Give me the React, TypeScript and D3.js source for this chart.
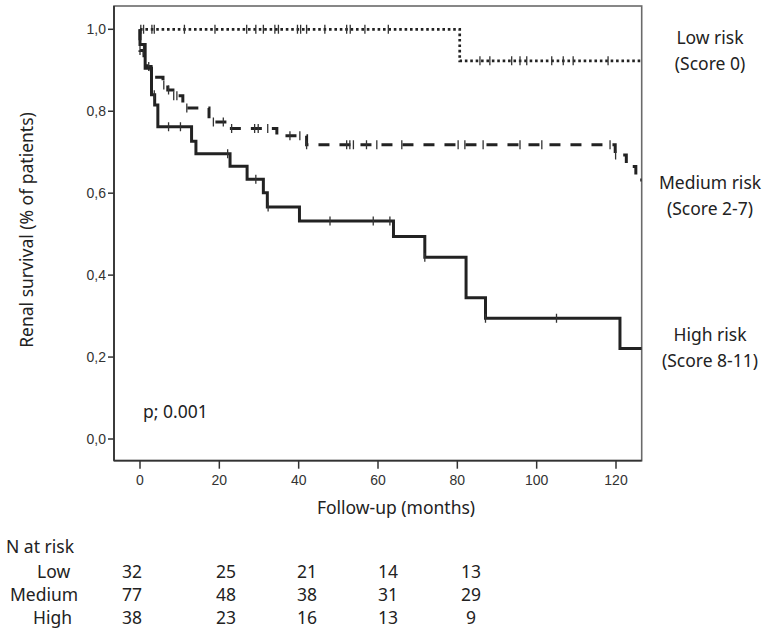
import React from 'react';
import * as d3 from 'd3';

// ---------- data ----------
const followUpEnd = 126.5;

const lowTimes = [0, 80.6];
const lowSurv = [1.0, 0.923];
const lowCensor = [0.2, 0.9, 3.0, 3.6, 11.2, 18.9, 26.9, 29.2, 31.1, 34.0, 34.9, 39.7, 40.5, 42.0, 46.6, 52.1, 53.0, 56.7, 62.6, 85.7, 88.2, 93.7, 95.8, 97.5, 103.8, 106.7, 109.2, 118.0];

const medTimes = [0, 0, 1.0, 1.8, 2.8, 4.2, 5.8, 7.0, 8.3, 10.8, 17.4, 22.6, 34.5, 42.0, 119.8, 122.6, 125.0];
const medSurv = [1.0, 0.948, 0.922, 0.909, 0.896, 0.883, 0.864, 0.852, 0.838, 0.808, 0.774, 0.758, 0.740, 0.718, 0.693, 0.665, 0.632];
const medCensor = [0.0, 0.9, 2.2, 6.0, 7.2, 8.5, 9.3, 11.8, 18.5, 21.0, 23.1, 28.9, 29.8, 32.2, 37.8, 40.3, 42.0, 52.1, 52.9, 53.8, 57.1, 59.7, 66.0, 80.2, 81.9, 86.5, 95.8, 101.3, 118.5, 119.9];

const highTimes = [0, 0, 1.3, 2.9, 3.7, 4.5, 13.0, 14.1, 22.7, 27.0, 31.1, 32.1, 40.2, 63.9, 71.8, 82.2, 87.1, 121.0];
const highSurv = [1.0, 0.963, 0.905, 0.84, 0.815, 0.762, 0.727, 0.696, 0.666, 0.634, 0.601, 0.566, 0.532, 0.494, 0.4435, 0.345, 0.2946, 0.221];
const highCensor = [3.6, 7.2, 10.2, 22.1, 29.2, 32.3, 47.9, 58.8, 63.0, 71.8, 87.1, 105.0];

const xTicks = [0, 20, 40, 60, 80, 100, 120];
const yTicks = [0, 0.2, 0.4, 0.6, 0.8, 1.0];

const riskGroups = ['Low', 'Medium', 'High'];
const riskLow = [32, 25, 21, 14, 13];
const riskMedium = [77, 48, 38, 31, 29];
const riskHigh = [38, 23, 16, 13, 9];

const groupLabels = [
  ['Low risk', '(Score 0)'],
  ['Medium risk', '(Score 2-7)'],
  ['High risk', '(Score 8-11)'],
];

// ---------- layout ----------
const W = 768;
const H = 639;
const frame = { left: 114, right: 641.7, top: 6, bottom: 460.7 };
const labelFont = '"Noto Sans", "Open Sans", sans-serif';
const tickFont = '"Liberation Sans", Arial, sans-serif';
const tableColX = [132, 226, 307, 388, 471];
const tableRowY = [578, 601, 624];
const rowLabelX = [37, 10, 33];
const groupLabelY = [[44, 70], [189, 215], [341, 367]];

const x = d3.scaleLinear().domain([0, 120]).range([140, 616]);
const y = d3.scaleLinear().domain([0, 1]).range([439, 29.3]);

function stepPath(times: number[], surv: number[]) {
  const pts: [number, number][] = times.map((t, i) => [t, surv[i]]);
  pts.push([followUpEnd, surv[surv.length - 1]]);
  const line = d3
    .line<[number, number]>()
    .x((d) => x(d[0]))
    .y((d) => y(d[1]))
    .curve(d3.curveStepAfter);
  return line(pts) || '';
}

function survAt(times: number[], surv: number[], t: number) {
  let v = surv[0];
  for (let i = 0; i < times.length; i++) {
    if (times[i] <= t) v = surv[i];
  }
  return v;
}

const series = [
  { times: lowTimes, surv: lowSurv, censor: lowCensor, dash: '2.6,2.8', width: 2.7 },
  { times: medTimes, surv: medSurv, censor: medCensor, dash: '11,10', width: 3 },
  { times: highTimes, surv: highSurv, censor: highCensor, dash: undefined, width: 3 },
];

export default function App() {
  const riskRows = [riskLow, riskMedium, riskHigh];
  return (
    <svg
      width={W}
      height={H}
      viewBox={`0 0 ${W} ${H}`}
      style={{ position: 'absolute', left: 0, top: 0, background: '#fff' }}
    >
      <rect x={0} y={0} width={W} height={H} fill="#fff" />
      <defs>
        <clipPath id="plotClip">
          <rect x={frame.left} y={frame.top} width={frame.right - frame.left} height={frame.bottom - frame.top} />
        </clipPath>
      </defs>

      {/* frame */}
      <rect
        x={frame.left}
        y={frame.top}
        width={frame.right - frame.left}
        height={frame.bottom - frame.top}
        fill="none"
        stroke="#6a6a6a"
        strokeWidth={1.6}
      />
      <line x1={frame.left} x2={frame.left} y1={frame.top} y2={frame.bottom} stroke="#333" strokeWidth={1.8} />
      <line x1={frame.left} x2={frame.right} y1={frame.bottom} y2={frame.bottom} stroke="#333" strokeWidth={1.8} />

      {/* y ticks */}
      {yTicks.map((v) => (
        <g key={'y' + v}>
          <line x1={frame.left - 6} x2={frame.left} y1={y(v)} y2={y(v)} stroke="#333" strokeWidth={1.5} />
          <text
            x={frame.left - 8}
            y={y(v) + 5}
            textAnchor="end"
            fontFamily={tickFont}
            fontSize={14}
            fill="#333"
          >
            {d3.format('.1f')(v).replace('.', ',')}
          </text>
        </g>
      ))}

      {/* x ticks */}
      {xTicks.map((t) => (
        <g key={'x' + t}>
          <line x1={x(t)} x2={x(t)} y1={frame.bottom} y2={frame.bottom + 8} stroke="#333" strokeWidth={1.5} />
          <text x={x(t)} y={485} textAnchor="middle" fontFamily={tickFont} fontSize={14} fill="#333">
            {t}
          </text>
        </g>
      ))}

      {/* curves */}
      <g clipPath="url(#plotClip)">
        {series.map((s, i) => (
          <g key={'s' + i}>
            <path
              d={stepPath(s.times, s.surv)}
              fill="none"
              stroke="#222"
              strokeWidth={s.width}
              strokeDasharray={s.dash}
              strokeLinejoin="miter"
            />
            {s.censor.map((t, j) => {
              const cy = y(survAt(s.times, s.surv, t));
              return (
                <line
                  key={j}
                  x1={x(t)}
                  x2={x(t)}
                  y1={cy - 4.5}
                  y2={cy + 4.5}
                  stroke="#333"
                  strokeWidth={1.3}
                />
              );
            })}
          </g>
        ))}
      </g>

      {/* group labels */}
      {groupLabels.map((lines, i) =>
        lines.map((txt, k) => (
          <text
            key={'gl' + i + k}
            x={710}
            y={groupLabelY[i][k]}
            textAnchor="middle"
            fontFamily={labelFont}
            fontSize={17.5}
            fill="#222"
          >
            {txt}
          </text>
        ))
      )}

      {/* p value */}
      <text x={143} y={418} fontFamily={labelFont} fontSize={17.5} fill="#222">
        p; 0.001
      </text>

      {/* axis titles */}
      <text
        transform="translate(33,230) rotate(-90)"
        textAnchor="middle"
        fontFamily={labelFont}
        fontSize={17.5}
        fill="#222"
      >
        Renal survival (% of patients)
      </text>
      <text x={396} y={514} textAnchor="middle" fontFamily={labelFont} fontSize={17.5} fill="#222">
        Follow-up (months)
      </text>

      {/* risk table */}
      <text x={6} y={553} fontFamily={labelFont} fontSize={17.5} fill="#222">
        N at risk
      </text>
      {riskGroups.map((g, i) => (
        <g key={'r' + g}>
          <text x={rowLabelX[i]} y={tableRowY[i]} fontFamily={labelFont} fontSize={17.5} fill="#222">
            {g}
          </text>
          {riskRows[i].map((n, j) => (
            <text
              key={j}
              x={tableColX[j]}
              y={tableRowY[i]}
              textAnchor="middle"
              fontFamily={labelFont}
              fontSize={17.5}
              fill="#222"
            >
              {n}
            </text>
          ))}
        </g>
      ))}
    </svg>
  );
}
